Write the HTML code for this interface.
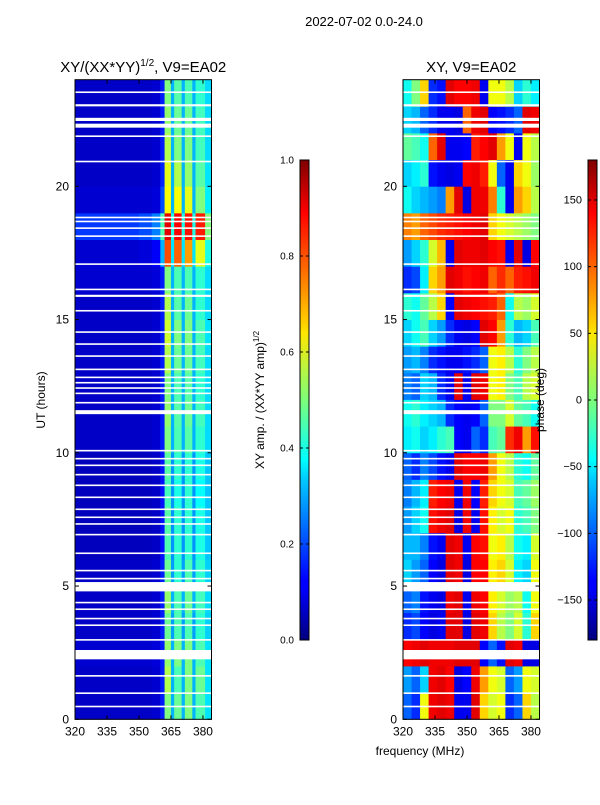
<!DOCTYPE html>
<html><head><meta charset="utf-8">
<style>
body{margin:0;background:#fff;width:600px;height:800px;overflow:hidden}
svg{font-family:"Liberation Sans","DejaVu Sans",sans-serif}
</style></head>
<body>
<svg id="fig" width="600" height="800" xmlns="http://www.w3.org/2000/svg">
<defs>
<linearGradient id="jet" x1="0" y1="1" x2="0" y2="0">
<stop offset="0" stop-color="#00007f"/><stop offset="0.11" stop-color="#0000ff"/><stop offset="0.125" stop-color="#0000ff"/>
<stop offset="0.34" stop-color="#00d0ff"/><stop offset="0.375" stop-color="#00ffff"/><stop offset="0.5" stop-color="#7dff7a"/>
<stop offset="0.64" stop-color="#ffe600"/><stop offset="0.66" stop-color="#ffd000"/><stop offset="0.89" stop-color="#ff0000"/><stop offset="1" stop-color="#7f0000"/>
</linearGradient>
</defs>
<text x="364" y="26" font-size="13" text-anchor="middle">2022-07-02 0.0-24.0</text>
<g id="left"></g>
<g id="right"></g>
</svg>
<script>
const freqEdges=[320,324,328,332,336,340,344,348,352,356,360,364,368,372,376,380,384];
const ampEdges=[320,330,340,350,356,360,362,365,366.5,370,371.5,375,376.5,381,384];
const xTicks=[320,335,350,365,380];
const yTicks=[0,5,10,15,20];
const ampTicks=[0.0,0.2,0.4,0.6,0.8,1.0];
const phaseTicks=[-150,-100,-50,0,50,100,150];
// amplitude per UT hour row (0..23) x 14 frequency columns (ampEdges)
const amp=[
[.07,.07,.07,.07,.08,.15,.5,.3,.48,.3,.5,.3,.45,.35],
[.07,.07,.07,.07,.08,.15,.55,.3,.45,.3,.5,.3,.48,.35],
[.08,.08,.08,.08,.09,.15,.52,.3,.5,.3,.5,.3,.45,.35],
[.07,.07,.07,.07,.08,.15,.48,.28,.45,.28,.45,.28,.42,.33],
[.07,.07,.07,.07,.08,.15,.52,.3,.45,.3,.48,.3,.44,.34],
[.07,.07,.07,.07,.08,.15,.48,.28,.42,.28,.45,.28,.42,.33],
[.06,.06,.06,.06,.07,.14,.45,.27,.42,.27,.42,.27,.4,.32],
[.06,.06,.06,.06,.07,.14,.46,.27,.42,.27,.42,.27,.4,.32],
[.06,.06,.06,.06,.07,.14,.44,.27,.4,.27,.42,.27,.38,.32],
[.06,.06,.06,.06,.07,.14,.46,.27,.42,.27,.42,.27,.4,.32],
[.07,.07,.07,.07,.08,.15,.5,.3,.45,.3,.46,.3,.42,.34],
[.07,.07,.07,.07,.08,.15,.52,.3,.46,.3,.48,.3,.44,.34],
[.07,.07,.07,.07,.08,.15,.5,.3,.45,.3,.46,.3,.42,.34],
[.07,.07,.07,.07,.08,.15,.55,.3,.48,.3,.48,.3,.44,.34],
[.07,.07,.07,.07,.08,.15,.58,.3,.5,.3,.5,.3,.45,.35],
[.07,.07,.07,.07,.08,.15,.55,.3,.46,.3,.48,.3,.42,.34],
[.08,.08,.08,.08,.09,.15,.5,.3,.45,.3,.45,.3,.42,.34],
[.08,.08,.08,.09,.12,.3,.8,.35,.78,.35,.72,.35,.6,.4],
[.18,.18,.18,.2,.25,.45,.9,.4,.88,.4,.86,.4,.85,.5],
[.08,.08,.08,.08,.09,.2,.62,.3,.62,.3,.6,.3,.5,.36],
[.07,.07,.07,.07,.08,.16,.6,.3,.55,.3,.52,.3,.46,.35],
[.07,.07,.07,.07,.08,.15,.55,.3,.5,.3,.5,.3,.44,.34],
[.07,.07,.07,.07,.08,.15,.52,.3,.48,.3,.48,.3,.44,.34],
[.07,.07,.07,.07,.08,.15,.5,.3,.46,.3,.45,.3,.42,.34]];
// phase (deg) per UT hour row x 16 frequency columns (freqEdges)
const phase=[
[-100,-120,40,140,145,140,-140,-140,145,60,30,40,-120,-100,60,20],
[-80,-100,-60,140,145,135,-145,-135,140,80,40,30,-100,-80,40,30],
[135,140,145,140,140,140,145,145,145,-135,-100,-130,145,140,-145,-145],
[-120,-110,-135,-145,-140,145,145,-145,145,140,60,20,0,30,-30,60],
[-100,-90,-130,-140,-145,140,145,-140,140,135,50,30,10,20,-40,40],
[-60,-80,-100,-135,-145,145,140,-145,135,135,50,60,30,-50,-60,40],
[-70,-70,-90,-130,-140,145,140,-140,135,130,40,50,20,-40,-50,30],
[-80,-60,-40,130,140,145,-145,140,-140,130,50,30,40,-30,-20,0],
[-90,-70,-50,125,135,140,-140,140,-135,125,60,40,30,-20,-10,10],
[-100,-120,-90,-110,-130,-140,145,135,135,140,80,40,20,-30,-40,-10],
[-50,-40,-60,-50,-30,-20,-135,-140,-100,-120,-20,-10,120,140,80,130],
[-40,-30,-50,-60,-70,-120,-135,-140,-135,-100,0,0,30,-10,-20,-40],
[-90,-100,-60,-70,-120,-140,145,-140,145,140,40,50,0,-20,20,30],
[-80,-70,-90,-120,-130,-140,-140,-130,-120,-100,40,50,20,-30,0,20],
[-60,-40,-20,-60,-80,-120,-140,-145,-135,145,135,80,-30,-70,-60,-20],
[-30,-40,-10,20,60,-135,145,140,135,130,125,100,-40,20,10,30],
[-120,-110,-50,60,80,145,140,130,135,140,100,120,100,125,130,140],
[-80,-60,-30,30,70,-140,145,140,140,145,135,130,-140,145,-145,135],
[90,80,100,110,120,125,130,135,140,145,60,40,30,20,10,0],
[-40,-60,-70,-80,-90,80,145,-145,140,140,90,-30,-140,80,60,20],
[-60,-50,-30,-130,-140,-145,-140,135,140,125,40,-100,-140,60,40,10],
[-10,-20,-40,100,145,-140,-140,-135,125,135,145,80,40,-140,40,20],
[-60,-70,-100,-120,-140,-140,-145,100,140,145,-135,-130,-120,-100,145,140],
[-40,0,60,-120,-130,145,135,135,140,-140,40,40,20,-60,-30,-50]];
// flagged (white) time intervals: start hour, duration hours
const gapStart=[0.45,0.95,1.6,2.25,2.95,3.5,3.75,4.1,4.35,4.8,5.25,5.55,6.2,6.9,7.3,7.55,7.85,8.3,8.75,9.15,9.5,9.75,10.05,11.45,11.85,12.2,12.4,12.6,12.8,13.1,13.6,14.05,14.5,15.3,15.85,16.1,17.05,18.1,18.4,18.65,18.8,20.9,21.85,22.2,22.45,23.0,23.5];
const gapDur=[0.06,0.06,0.06,0.35,0.06,0.06,0.06,0.06,0.06,0.35,0.06,0.06,0.06,0.06,0.06,0.06,0.06,0.06,0.06,0.06,0.06,0.06,0.06,0.15,0.06,0.06,0.06,0.06,0.06,0.06,0.06,0.06,0.06,0.06,0.08,0.06,0.06,0.06,0.06,0.06,0.06,0.06,0.06,0.15,0.12,0.08,0.06];

const NS='http://www.w3.org/2000/svg';
function mk(tag,attrs,parent){const e=document.createElementNS(NS,tag);for(const k in attrs)e.setAttribute(k,attrs[k]);parent.appendChild(e);return e;}
function jet(v){v=Math.max(0,Math.min(1,v));
 const r=Math.max(0,Math.min(1,1.5-Math.abs(4*v-3)));
 const g=Math.max(0,Math.min(1,1.5-Math.abs(4*v-2)));
 const b=Math.max(0,Math.min(1,1.5-Math.abs(4*v-1)));
 return `rgb(${Math.round(r*255)},${Math.round(g*255)},${Math.round(b*255)})`;}
const Y0=719.3,PXH=26.65;
function yS(h){return Y0-h*PXH;}
function panel(g,x0,data,edges,norm,title){
 const xS=f=>x0+(f-320)*2.133;
 const x1=xS(384);
 for(let r=0;r<data.length;r++)for(let c=0;c<edges.length-1;c++){
  const cell=mk('rect',{x:xS(edges[c]),y:yS(r+1),width:xS(edges[c+1])-xS(edges[c])+0.4,height:PXH+0.4,fill:jet(norm(data[r][c]))},g);
  
  
 }
 for(let i=0;i<gapStart.length;i++){
  const gp=mk('rect',{x:x0,y:yS(gapStart[i]+gapDur[i]),width:x1-x0,height:gapDur[i]*PXH,fill:'#fff'},g);
  
  
 }
 const fr=mk('rect',{x:x0,y:yS(24),width:x1-x0,height:yS(0)-yS(24),fill:'none',stroke:'#000','stroke-width':1},g);
 
 
 for(const t of xTicks){const x=xS(t);
  mk('line',{x1:x,x2:x,y1:yS(0),y2:yS(0)-4,stroke:'#000'},g);
  mk('line',{x1:x,x2:x,y1:yS(24),y2:yS(24)+4,stroke:'#000'},g);
  const tl=mk('text',{x:x,y:yS(0)+16,'font-size':12,'text-anchor':'middle'},g);tl.textContent=t;
  
  }
 for(const t of yTicks){const y=yS(t);
  mk('line',{x1:x0,x2:x0+4,y1:y,y2:y,stroke:'#000'},g);
  mk('line',{x1:x1,x2:x1-4,y1:y,y2:y,stroke:'#000'},g);
  const tl=mk('text',{x:x0-6,y:y+4,'font-size':12,'text-anchor':'end'},g);tl.textContent=t;
  
  }
 const tt=mk('text',{x:(x0+x1)/2,y:72,'font-size':15,'text-anchor':'middle'},g);tt.innerHTML=title;
 
 
}
function cbar(g,x,ticks,vmin,vmax,fmt){
 const r=mk('rect',{x:x,y:160,width:9,height:480,fill:'url(#jet)',stroke:'#000','stroke-width':1},g);
 
 
 for(const t of ticks){const y=640-(t-vmin)/(vmax-vmin)*480;
  mk('line',{x1:x,x2:x+3,y1:y,y2:y,stroke:'#000'},g);
  mk('line',{x1:x+9,x2:x+6,y1:y,y2:y,stroke:'#000'},g);
  const tl=mk('text',{x:x-6,y:y+3.5,'font-size':fmt?10:11,'text-anchor':'end'},g);tl.textContent=fmt?t.toFixed(1):(t<0?'\u2212'+(-t):t);
  
  }
}
const L=document.getElementById('left'),R=document.getElementById('right');
panel(L,75,amp,ampEdges,v=>v,'XY/(XX*YY)<tspan font-size="10" dy="-6">1/2</tspan><tspan dy="6">, V9=EA02</tspan>');
panel(R,403,phase,freqEdges,v=>(v+180)/360,'XY, V9=EA02');
cbar(L,300,ampTicks,0,1,true);
cbar(R,588,phaseTicks,-180,180,false);
const yl=mk('text',{x:45,y:400,'font-size':12,'text-anchor':'middle',transform:'rotate(-90 45 400)'},L);yl.textContent='UT (hours)';


const cl=mk('text',{x:264,y:400,'font-size':12,'text-anchor':'middle',transform:'rotate(-90 264 400)'},L);cl.innerHTML='XY amp. / (XX*YY amp)<tspan font-size="8" dy="-5">1/2</tspan>';


const pl=mk('text',{x:544,y:400,'font-size':12,'text-anchor':'middle',transform:'rotate(-90 544 400)'},R);pl.textContent='phase (deg)';


const xl=mk('text',{x:420,y:755,'font-size':12,'text-anchor':'middle'},R);xl.textContent='frequency (MHz)';


</script>
</body></html>
